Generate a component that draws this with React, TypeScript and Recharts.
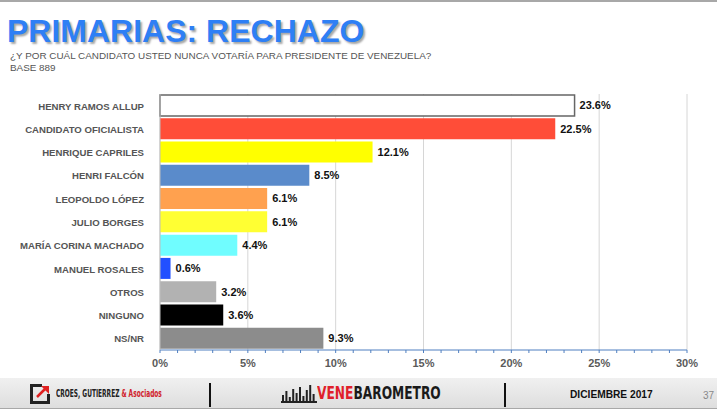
import { BarChart, Bar, XAxis, YAxis, CartesianGrid, Cell, LabelList } from 'recharts';

const CANDIDATES = [
  'HENRY RAMOS ALLUP', 'CANDIDATO OFICIALISTA', 'HENRIQUE CAPRILES', 'HENRI FALCÓN',
  'LEOPOLDO LÓPEZ', 'JULIO BORGES', 'MARÍA CORINA MACHADO', 'MANUEL ROSALES',
  'OTROS', 'NINGUNO', 'NS/NR'
];
const REJECTION = [23.6, 22.5, 12.1, 8.5, 6.1, 6.1, 4.4, 0.6, 3.2, 3.6, 9.3];
const BAR_COLORS = [
  '#ffffff', '#ff4d38', '#ffff00', '#5a8bcb', '#ffa14f', '#ffff33',
  '#70fdff', '#2250ff', '#b2b2b2', '#000000', '#8c8c8c'
];
const MINOR_TICKS = Array.from({ length: 31 }, (_, i) => i);
const MAJOR_TICKS = [0, 5, 10, 15, 20, 25, 30];

const FONT = '"Liberation Sans", Arial, Helvetica, sans-serif';
const NARROW = '"DejaVu Sans Condensed", "Liberation Sans Narrow", sans-serif';

const data = CANDIDATES.map((name, i) => ({ name, value: REJECTION[i] }));

// etiqueta del eje Y en una sola línea (sin wrap)
function CategoryTick({ x, y, payload }: any) {
  return (
    <text x={x} y={y} dy={4} textAnchor="end" fill="#555" fontSize={9.6} fontWeight={700} fontFamily={FONT}>
      {payload.value}
    </text>
  );
}

// ── Logos del pie de página ───────────────────────────────────
function CroesLogo() {
  return (
    <svg width={22} height={22} viewBox="0 0 22 22" style={{ position: 'absolute', left: 29, top: 383 }}>
      <path d="M1 1 H13 V4 H4 V18 H18 V11 H21 V21 H1 Z" fill="#222" />
      <path d="M8 14 L17 5" stroke="#e02020" strokeWidth={2.5} />
      <path d="M12 3 H20 V11 Z" fill="#e02020" />
    </svg>
  );
}

function BarsLogo() {
  const heights = [6, 10, 4, 12, 8, 14, 5, 11, 16, 7];
  return (
    <svg width={36} height={20} style={{ position: 'absolute', left: 281, top: 383 }}>
      {heights.map((h, i) => (
        <rect key={i} x={1 + i * 3.4} y={18 - h} width={2} height={h} fill="#222" />
      ))}
      <rect x={0} y={18} width={36} height={2} fill="#222" />
    </svg>
  );
}

export default function App() {
  return (
    <div style={{ position: 'absolute', left: 0, top: 0, width: 717, height: 411, background: '#fff', fontFamily: FONT, overflow: 'hidden' }}>
      <div style={{ position: 'absolute', left: 0, top: 0, width: 717, height: 2, background: '#a8a8a8' }} />
      <div style={{
        position: 'absolute', left: 7, top: 12, fontSize: 32, fontWeight: 700, color: '#2e7ff5',
        textShadow: '2px 2px 2px rgba(0,0,0,0.35)', lineHeight: '38px', whiteSpace: 'nowrap'
      }}>
        PRIMARIAS: RECHAZO
      </div>
      <div style={{ position: 'absolute', left: 10, top: 50, fontSize: 9.9, color: '#555', lineHeight: '12px', whiteSpace: 'nowrap' }}>
        ¿Y POR CUÁL CANDIDATO USTED NUNCA VOTARÍA PARA PRESIDENTE DE VENEZUELA?
        <br />
        BASE 889
      </div>

      <div style={{ position: 'absolute', left: 0, top: 0 }}>
        <BarChart
          width={717} height={380} data={data} layout="vertical"
          margin={{ top: 94, right: 30, left: 0, bottom: 0 }}
          barCategoryGap={1}
        >
          <CartesianGrid horizontal={false} verticalValues={MAJOR_TICKS} stroke="#d6d6d6" />
          <XAxis
            type="number" domain={[0, 30]} ticks={MINOR_TICKS} interval={0}
            tickFormatter={(v: number) => (v % 5 === 0 ? `${v}%` : '')}
            stroke="#4f7fc0" tickSize={3} tickMargin={6} height={30}
            tick={{ fill: '#5a5a5a', fontSize: 11, fontWeight: 700, fontFamily: FONT }}
          />
          <YAxis
            type="category" dataKey="name" width={160} interval={0}
            axisLine={{ stroke: '#bdbdbd' }} tickLine={false} tickMargin={10}
            tick={<CategoryTick />}
          />
          <Bar dataKey="value" isAnimationActive={false}>
            {data.map((d, i) => (
              <Cell key={d.name} fill={BAR_COLORS[i]} stroke={i === 0 ? '#666' : 'none'} strokeWidth={i === 0 ? 1.5 : 0} />
            ))}
            <LabelList
              dataKey="value" position="right" offset={5}
              formatter={(v: number) => `${v.toFixed(1)}%`}
              style={{ fill: '#111', fontSize: 11, fontWeight: 700, fontFamily: FONT }}
            />
          </Bar>
        </BarChart>
      </div>

      {/* pie de página */}
      <div style={{ position: 'absolute', left: 0, top: 378, width: 717, height: 30, background: 'linear-gradient(#f0f0f0, #dedede)', borderBottom: '1.5px solid #a8a8a8' }} />
      <CroesLogo />
      <div style={{ position: 'absolute', left: 56, top: 388, fontSize: 9.6, fontWeight: 700, fontFamily: NARROW, whiteSpace: 'nowrap', color: '#222', transform: 'scaleX(0.68)', transformOrigin: 'left' }}>
        CROES, GUTIERREZ <span style={{ color: '#d0202a' }}>&amp; Asociados</span>
      </div>
      <div style={{ position: 'absolute', left: 209, top: 383, width: 2, height: 24, background: '#111' }} />
      <BarsLogo />
      <div style={{ position: 'absolute', left: 317, top: 383, fontSize: 17, fontWeight: 700, fontFamily: NARROW, whiteSpace: 'nowrap', color: '#1a1a1a', transform: 'scaleX(0.8)', transformOrigin: 'left' }}>
        <span style={{ color: '#e0202a' }}>VENE</span>BAROMETRO
      </div>
      <div style={{ position: 'absolute', left: 504, top: 383, width: 2, height: 24, background: '#111' }} />
      <div style={{ position: 'absolute', left: 570, top: 389, fontSize: 10.2, fontWeight: 700, color: '#111', whiteSpace: 'nowrap' }}>
        DICIEMBRE 2017
      </div>
      <div style={{ position: 'absolute', left: 703, top: 390, fontSize: 10, color: '#888' }}>37</div>
    </div>
  );
}
